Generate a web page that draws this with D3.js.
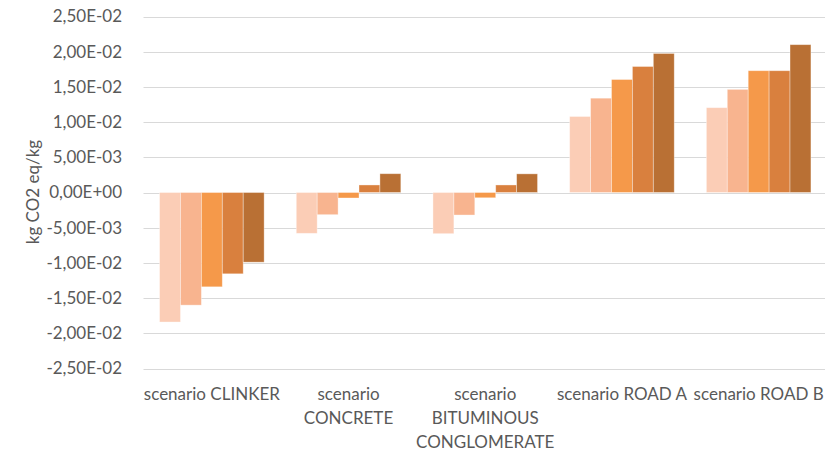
<!DOCTYPE html>
<html>
<head>
<meta charset="utf-8">
<script src="https://cdn.jsdelivr.net/npm/d3@7"></script>
<style>
  html, body { margin: 0; padding: 0; background: #fff; }
  svg { display: block; }
  text { font-family: Lato, "Open Sans", sans-serif; fill: #595959; }
</style>
</head>
<body>
<svg id="chart" width="825" height="454"></svg>
<script>
// Scenario categories (x axis); each label may wrap over several lines
const categories = [
  ["scenario CLINKER"],
  ["scenario", "CONCRETE"],
  ["scenario", "BITUMINOUS", "CONGLOMERATE"],
  ["scenario ROAD A"],
  ["scenario ROAD B"]
];

// Five series, one value per scenario (kg CO2 eq/kg)
const series1 = [-1.84e-2, -5.8e-3, -5.85e-3, 1.08e-2, 1.205e-2];
const series2 = [-1.60e-2, -3.15e-3, -3.2e-3, 1.34e-2, 1.465e-2];
const series3 = [-1.34e-2, -0.78e-3, -0.75e-3, 1.605e-2, 1.73e-2];
const series4 = [-1.155e-2, 1.07e-3, 1.07e-3, 1.79e-2, 1.73e-2];
const series5 = [-0.99e-2, 2.67e-3, 2.65e-3, 1.975e-2, 2.10e-2];

const seriesColors = ["#FBCDB6", "#F8B48F", "#F5994A", "#D9803E", "#B97034"];

// Y axis ticks and their labels
const yTicks = [2.5e-2, 2.0e-2, 1.5e-2, 1.0e-2, 5.0e-3, 0, -5.0e-3, -1.0e-2, -1.5e-2, -2.0e-2, -2.5e-2];
const yTickLabels = ["2,50E-02", "2,00E-02", "1,50E-02", "1,00E-02", "5,00E-03", "0,00E+00",
  "-5,00E-03", "-1,00E-02", "-1,50E-02", "-2,00E-02", "-2,50E-02"];
const yTitle = "kg CO2 eq/kg";

const allSeries = [series1, series2, series3, series4, series5];

const svg = d3.select("#chart");
const plot = { left: 143.5, right: 827, top: 16.5, bottom: 368.5 };

const x = d3.scaleBand()
  .domain(d3.range(categories.length))
  .range([plot.left, plot.right])
  .paddingInner(0.235)
  .paddingOuter(0.1175);

const xInner = d3.scaleBand()
  .domain(d3.range(allSeries.length))
  .range([0, x.bandwidth()]);

const y = d3.scaleLinear()
  .domain([-2.5e-2, 2.5e-2])
  .range([plot.bottom, plot.top]);

// Horizontal gridlines
svg.append("g")
  .selectAll("line")
  .data(yTicks)
  .join("line")
  .attr("x1", plot.left)
  .attr("x2", 825)
  .attr("y1", d => Math.round(y(d)) + 0.5)
  .attr("y2", d => Math.round(y(d)) + 0.5)
  .attr("stroke", "#D9D9D9")
  .attr("stroke-width", 1);

// Y axis labels
const yAxis = d3.axisLeft(y)
  .tickValues(yTicks)
  .tickFormat((d, i) => yTickLabels[i])
  .tickSize(0)
  .tickPadding(0);

const gy = svg.append("g")
  .attr("transform", `translate(${122},0)`)
  .call(yAxis);
gy.select(".domain").remove();
gy.selectAll("text")
  .attr("fill", "#595959")
  .style("font-family", "Lato, sans-serif")
  .style("font-size", "17px");

// Bars
const groups = svg.append("g")
  .selectAll("g")
  .data(allSeries)
  .join("g")
  .attr("fill", (d, i) => seriesColors[i]);

groups.each(function (vals, si) {
  d3.select(this).selectAll("rect")
    .data(vals)
    .join("rect")
    .attr("x", (v, ci) => x(ci) + xInner(si))
    .attr("width", xInner.bandwidth())
    .attr("y", v => Math.min(y(v), y(0)))
    .attr("height", v => Math.abs(y(v) - y(0)))
    .attr("stroke", "rgba(255,255,255,0.45)")
    .attr("stroke-width", 0.8);
});

// Category labels (wrapped over several lines)
const xl = svg.append("g")
  .selectAll("text")
  .data(categories)
  .join("text")
  .attr("text-anchor", "middle")
  .style("font-size", "17px")
  .attr("fill", "#595959");
xl.each(function (lines, ci) {
  d3.select(this).selectAll("tspan")
    .data(lines)
    .join("tspan")
    .attr("x", x(ci) + x.bandwidth() / 2)
    .attr("y", (l, li) => 400 + li * 24)
    .text(l => l);
});

// Y axis title
svg.append("text")
  .attr("transform", `translate(39,192) rotate(-90)`)
  .attr("text-anchor", "middle")
  .style("font-size", "17px")
  .attr("fill", "#595959")
  .text(yTitle);
</script>
</body>
</html>
